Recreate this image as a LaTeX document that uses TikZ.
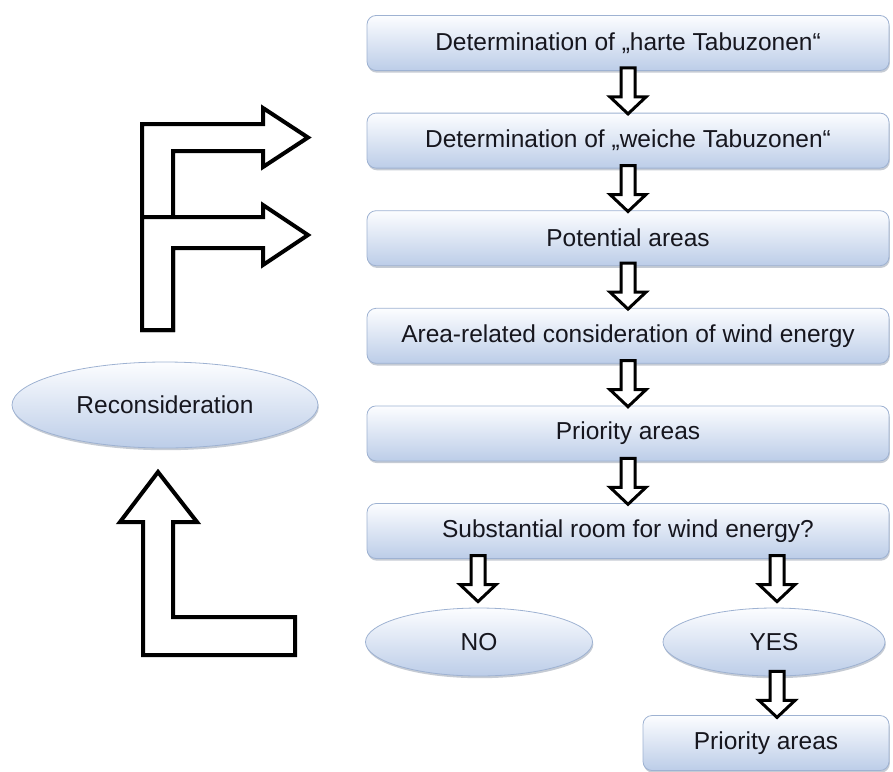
\documentclass[tikz,border=0pt]{standalone}
\usepackage{fontspec}
\setmainfont{Liberation Sans}
\usetikzlibrary{shapes.geometric,shadows,calc}
\definecolor{boxtop}{RGB}{252,253,255}
\definecolor{boxbot}{RGB}{188,205,232}
\definecolor{boxline}{RGB}{158,178,210}
\definecolor{txt}{RGB}{22,22,30}
\begin{document}
\begin{tikzpicture}[x=1pt,y=-1pt,
  shade base/.style={top color=boxtop, bottom color=boxbot, draw=boxline, line width=0.8pt,
    text=txt, font=\fontsize{24.5}{28}\selectfont, inner sep=0pt,
    drop shadow={shadow xshift=0.8pt, shadow yshift=-2.2pt, fill=boxline!70!black, opacity=0.4}},
  box/.style={shade base, rectangle, rounded corners=9pt, minimum width=522pt, minimum height=55pt},
  oval/.style={shade base, ellipse},
  bigarrow/.style={draw=black, fill=white, line width=4pt, line join=miter},
  smallarrow/.style={draw=black, fill=white, line width=3pt, line join=miter},
  downarr/.pic={\path[smallarrow] (-7,0) -- (-7,29) -- (-18,29) -- (0,46) -- (18,29) -- (7,29) -- (7,0) -- cycle;}
]
\useasboundingbox (0,0) rectangle (893,771);

% main column
\node[box] (b1) at (628,43)    {Determination of „harte Tabuzonen“};
\node[box] (b2) at (628,140.6) {Determination of „weiche Tabuzonen“};
\node[box] (b3) at (628,238.2) {Potential areas};
\node[box] (b4) at (628,335.8) {Area-related consideration of wind energy};
\node[box] (b5) at (628,433.4) {Priority areas};
\node[box] (b6) at (628,531)   {Substantial room for wind energy?};

\node[oval, minimum width=227pt, minimum height=68pt] (no)  at (479,642) {NO};
\node[oval, minimum width=222pt, minimum height=68pt] (yes) at (774,642) {YES};
\node[box, minimum width=246pt] (pa) at (766,743) {Priority areas};

\node[oval, minimum width=306pt, minimum height=86pt] (rec) at (165,405) {Reconsideration};

% small down arrows
\foreach \a/\b in {b1/b2,b2/b3,b3/b4,b4/b5,b5/b6}
  \pic at ($(\a.south)+(0,-3)$) {downarr};
\pic at ($(no.north)+(-1,-52)$) {downarr};
\pic at ($(yes.north)+(3,-52)$) {downarr};
\pic at ($(yes.south)+(3,-5)$) {downarr};

% F-shaped feedback arrows
\path[bigarrow] (142,330) -- (142,124) -- (263,124) -- (263,108) -- (308,137.5)
  -- (263,167) -- (263,151) -- (173,151) -- (173,330) -- cycle;
\path[bigarrow] (142,330) -- (142,217) -- (263,217) -- (263,205) -- (308,235)
  -- (263,265) -- (263,248) -- (173,248) -- (173,330) -- cycle;

% L-shaped arrow up to Reconsideration
\path[bigarrow] (158,472) -- (197,522) -- (173,522) -- (173,617) -- (295,617)
  -- (295,655) -- (143,655) -- (143,522) -- (120,522) -- cycle;
\end{tikzpicture}
\end{document}
